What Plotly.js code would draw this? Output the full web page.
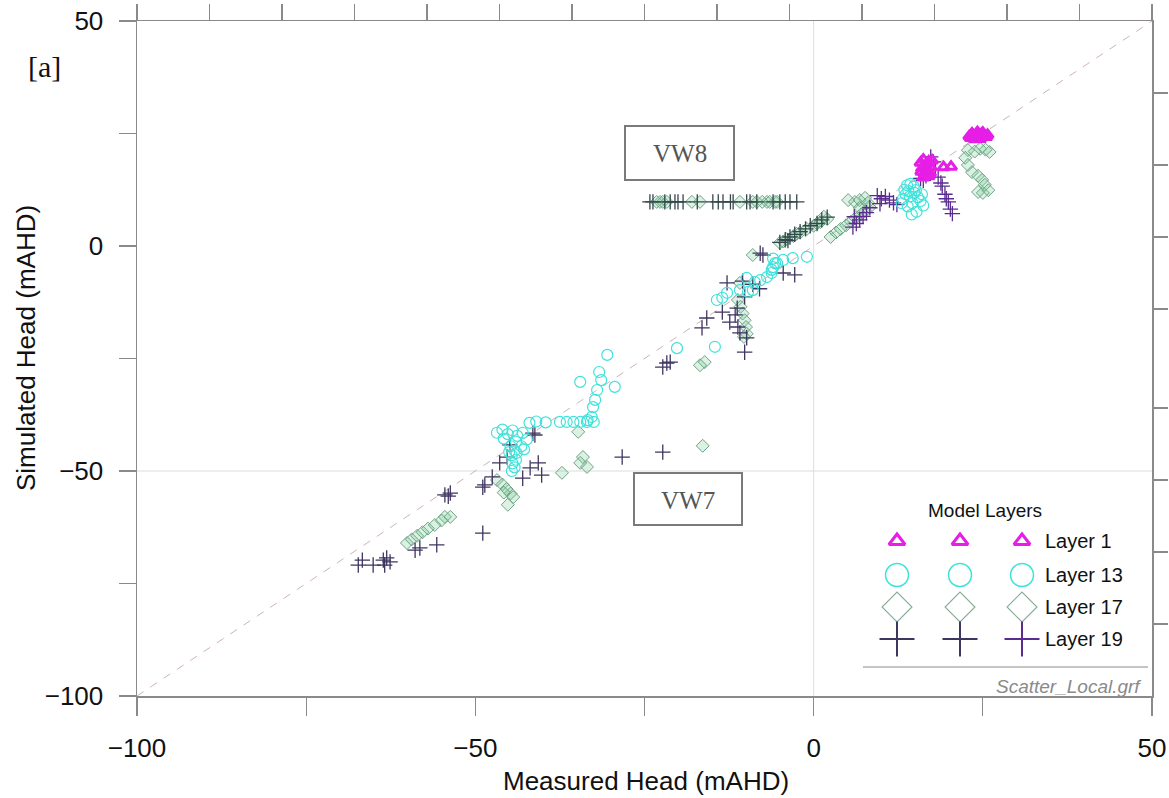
<!DOCTYPE html>
<html>
<head>
<meta charset="utf-8">
<script src="https://cdn.plot.ly/plotly-3.0.1.min.js"></script>
<style>html,body{margin:0;padding:0;background:#fff;}#chart{width:1169px;height:798px;}</style>
</head>
<body>
<div id="chart"></div>
<script>
// ---------- data ----------
var layer1X = [23.2,23.6,24.0,24.4,24.8,25.2,25.5,23.8,24.6,25.0,23.4,24.2,23.0,25.7,24.0,24.9,
               15.8,16.2,16.6,17.0,17.3,16.0,16.8,17.5,16.4,17.0,16.2,15.9,16.5,17.2,
               19.2,20.3];
var layer1Y = [24.0,24.5,24.8,24.3,24.9,24.6,24.2,23.7,23.8,25.2,25.0,25.3,24.4,24.7,24.1,24.4,
               18.5,19.2,18.0,18.8,17.5,17.2,16.8,19.0,16.0,15.5,15.2,16.5,17.8,16.2,
               17.5,17.6];

var layer13X = [13.4,13.8,14.3,14.8,15.1,13.6,14.2,14.9,15.4,14.0,13.2,15.8,16.2,14.6,13.9,15.2,14.5,16.0,13.0,
                -6.0,-4.5,-3.1,-1.0,-5.7,-6.2,
                -9.9,-8.7,-7.9,-6.9,-6.2,-6.0,-5.4,-9.0,-9.7,-10.9,
                -12.8,-14.3,-13.5,-20.2,-14.6,
                -30.5,-31.7,-31.4,-29.4,-34.5,-32.0,-32.3,-32.6,-32.8,-33.4,
                -37.5,-36.5,-35.5,-34.5,-33.5,-32.5,-42.0,-41.0,-39.6,
                -46.8,-46.0,-45.2,-44.5,-43.8,-43.0,-42.4,-45.8,-44.0,
                -44.8,-44.2,-44.6,-44.0,-44.5,-44.2,-44.6,-43.9,-45.0,-43.2,-42.8];
var layer13Y = [12.5,13.5,13.8,13.2,12.4,11.5,11.0,11.8,10.8,12.2,10.5,10.0,9.0,9.5,8.8,7.6,7.0,11.5,9.5,
                -2.8,-3.1,-2.7,-2.4,-3.8,-5.3,
                -7.1,-8.0,-7.6,-6.9,-6.0,-4.7,-3.8,-9.8,-10.2,-9.8,
                -10.4,-12.0,-11.5,-22.7,-22.4,
                -24.2,-28.0,-29.8,-31.3,-30.2,-32.0,-34.2,-35.8,-38.0,-38.7,
                -39.1,-39.1,-39.1,-39.1,-39.1,-39.1,-39.3,-39.0,-39.2,
                -41.5,-40.8,-41.8,-41.0,-42.2,-41.5,-43.0,-42.8,-43.5,
                -44.5,-45.5,-46.5,-47.5,-48.3,-49.2,-50.0,-46.0,-45.8,-44.5,-45.2];

var layer17X = [22.8,24.6,26.0,22.4,22.8,23.4,24.3,24.9,25.3,25.8,25.0,24.3,23.8,25.4,
                2.5,3.3,4.0,4.8,5.5,6.2,7.0,7.6,8.3,5.1,6.1,6.8,7.6,8.0,6.8,
                -5.0,-4.0,-3.0,-2.0,-1.0,0.0,1.0,2.0,-4.5,-2.5,0.5,1.5,
                -23.2,-22.7,-22.3,-21.7,-18.0,-16.8,-10.9,-9.0,-8.4,-7.6,-6.9,-6.5,-5.7,-5.4,
                -9.0,-10.9,-11.2,-10.8,-10.5,-10.2,-10.0,-9.9,-10.3,-16.1,-16.8,
                -34.8,-34.1,-33.5,-34.5,-37.2,-16.4,
                -46.8,-46.0,-45.4,-44.8,-44.4,-45.8,-45.2,-54.5,
                -60.1,-59.4,-58.6,-57.8,-57.0,-56.0,-55.0,-53.7];
var layer17Y = [21.3,21.6,20.9,19.6,18.0,16.4,15.6,14.7,13.6,12.4,11.8,12.0,21.0,21.4,
                2.0,3.0,3.8,4.6,5.4,6.2,7.0,7.8,8.6,10.2,9.8,10.2,10.7,9.6,8.5,
                0.7,1.5,2.2,3.0,3.8,4.5,5.3,6.0,1.0,2.7,5.0,6.5,
                9.8,9.8,9.8,9.8,9.8,9.8,9.8,9.8,9.8,9.8,9.8,9.8,9.8,9.8,
                -2.0,-8.2,-12.0,-13.5,-15.0,-16.5,-18.0,-19.5,-20.2,-25.8,-26.5,
                -41.3,-46.9,-49.1,-48.2,-50.4,-44.4,
                -52.0,-53.0,-54.0,-55.0,-55.8,-54.8,-57.5,-60.2,
                -66.0,-65.2,-64.4,-63.6,-62.8,-62.0,-61.0,-60.2];

var layer19X = [17.3,17.7,18.4,19.0,19.4,19.9,20.2,18.8,19.6,20.5,18.0,15.8,16.6,16.2,
                9.4,10.0,10.6,11.2,11.8,12.3,9.8,
                5.8,6.3,6.8,7.3,7.8,8.3,6.0,
                -5.0,-4.2,-3.5,-2.8,-2.0,-1.2,-0.5,0.5,1.2,2.0,-3.8,
                -24.2,-23.75,-22.0,-21.2,-20.5,-20.05,-19.3,-17.2,-14.9,-14.1,-13.4,-12.3,-11.9,-9.9,-9.4,-8.4,-6.0,-5.0,-4.2,-3.5,-2.5,
                -7.9,-7.5,-4.5,-2.8,-12.8,-10.5,-9.0,-8.0,-10.2,-11.3,-11.6,-12.4,-11.2,-10.9,-9.9,-10.2,-13.5,-15.8,-16.5,-21.7,-21.2,-22.3,
                -41.5,-41.2,-44.9,-45.3,-46.4,-41.9,-40.7,-40.2,-43.0,-47.5,-48.6,-48.9,-53.7,-54.5,-54.0,-28.3,-22.3,
                -48.9,-55.7,-58.9,-58.2,-63.6,-63.1,-62.6,-63.4,-65.1,-66.7,-67.3];
var layer19Y = [19.8,18.7,15.3,13.3,11.5,9.8,8.2,14.0,10.5,7.2,17.0,15.0,15.6,14.6,
                11.2,10.5,11.0,10.2,9.6,9.2,9.4,
                4.2,5.0,5.8,6.6,7.4,8.5,6.5,
                0.8,1.4,2.0,2.6,3.2,3.8,4.5,5.0,5.8,6.4,1.2,
                9.8,9.8,9.8,9.8,9.8,9.8,9.8,9.8,9.8,9.8,9.8,9.8,9.8,9.8,9.8,9.8,9.8,9.8,9.8,9.8,9.8,
                -1.6,-2.0,-6.0,-6.4,-8.2,-7.8,-8.5,-9.5,-11.3,-13.8,-15.3,-16.9,-18.0,-19.3,-20.4,-23.6,-14.7,-16.0,-18.2,-26.0,-25.8,-26.9,
                -41.6,-42.0,-44.2,-46.9,-48.2,-49.3,-48.2,-50.9,-51.6,-51.3,-53.1,-53.6,-54.9,-55.3,-55.6,-46.9,-45.8,
                -63.8,-66.4,-67.6,-67.1,-69.8,-69.3,-70.2,-70.9,-70.9,-69.8,-70.9];

var oneToOne = [-100, 50];
var xTickVals = [-100,-75,-50,-25,0,25,50];
var xTickText = ['\u2212100','','\u221250','','0','','50'];
var yTickVals = [-100,-75,-50,-25,0,25,50];
var yTickText = ['\u2212100','','\u221250','','0','','50'];
var rightTickVals = [34,18,2,-14,-36,-52,-68,-84];
var legendLabels = ['Layer 1','Layer 13','Layer 17','Layer 19'];

// ---------- styles ----------
var C1 = '#e61ee6', C13 = '#3fe2da', C17 = '#6fa386', C19 = '#3e3560', C19b = '#5b2c8f', C19s = '#34474c';
var AX = '#8a8a8a';
var sans = 'Liberation Sans, Arial, sans-serif';
var serif = 'Liberation Serif, DejaVu Serif, serif';

var c19 = layer19X.map(function(x,i){
  var y = layer19Y[i];
  if (x > 5) return C19b;
  if (Math.abs(y - 9.8) < 0.05) return C19s;
  if (x > -6 && x < 3 && y > 0) return C19s;
  return C19;
});

function px2paperX(p){ return (p-137)/1015; }
function px2paperY(p){ return (696-p)/675; }

var traces = [];
traces.push({x: oneToOne, y: oneToOne, mode:'lines', type:'scatter', hoverinfo:'skip',
  line:{color:'#cdb4b4', width:1, dash:'8px,8px'}, showlegend:false});
traces.push({x: layer17X, y: layer17Y, mode:'markers', type:'scatter', showlegend:false,
  marker:{symbol:'diamond', size:10, color:'rgba(110,200,145,0.25)', line:{color:C17, width:1}}});
traces.push({x: layer19X, y: layer19Y, mode:'markers', type:'scatter', showlegend:false,
  marker:{symbol:'cross-thin-open', size:11, color:c19, line:{color:c19, width:1.3}}});
traces.push({x: layer13X, y: layer13Y, mode:'markers', type:'scatter', showlegend:false,
  marker:{symbol:'circle-open', size:11, color:C13, line:{color:C13, width:1.2}}});
traces.push({x: layer1X, y: layer1Y, mode:'markers', type:'scatter', showlegend:false,
  marker:{symbol:'triangle-up-open', size:10, color:C1, line:{color:C1, width:3}}});
traces.push({x: [], y: [], xaxis:'x2', yaxis:'y2', type:'scatter', mode:'markers', showlegend:false});

// ---------- custom legend (pixel-space overlay axes) ----------
var legRows = [541, 575, 607, 639];
var legCols = [897, 960, 1022];
var legSyms = [
  {symbol:'triangle-up-open', size:14, color:C1, lw:3},
  {symbol:'circle-open', size:23, color:C13, lw:1.5},
  {symbol:'diamond-open', size:23, color:'#86ad98', lw:1.1},
  {symbol:'cross-thin-open', size:25, color:C19, lw:2}
];
legSyms.forEach(function(s, r){
  var cols = legCols.map(function(c, k){ return (r===3 && k===2) ? C19b : s.color; });
  traces.push({x: legCols, y: legCols.map(function(){return legRows[r];}), xaxis:'x3', yaxis:'y3',
    type:'scatter', mode:'markers', showlegend:false, hoverinfo:'skip',
    marker:{symbol:s.symbol, size:s.size, color:cols, line:{color:cols, width:s.lw}}});
});

function ann(o){ o.showarrow = false; if(!o.xanchor) o.xanchor='center'; if(!o.yanchor) o.yanchor='middle'; return o; }

var annotations = [
  ann({xref:'x3', yref:'y3', x:985, y:510, text:'Model Layers', font:{family:sans, size:19, color:'#111'}}),
  ann({xref:'paper', yref:'paper', x:px2paperX(44), y:px2paperY(66), text:'[a]', font:{family:serif, size:30, color:'#111'}}),
  ann({xref:'paper', yref:'paper', x:px2paperX(680), y:px2paperY(154), text:'VW8', font:{family:serif, size:25, color:'#555'}}),
  ann({xref:'paper', yref:'paper', x:px2paperX(688), y:px2paperY(500), text:'VW7', font:{family:serif, size:25, color:'#555'}}),
  ann({xref:'x3', yref:'y3', x:1143, y:686, xanchor:'right', text:'<i>Scatter_Local.grf</i>', font:{family:sans, size:19, color:'#8a8a8a'}}),
  ann({xref:'paper', yref:'paper', x:px2paperX(646), y:px2paperY(781), text:'Measured Head (mAHD)', font:{family:sans, size:26, color:'#111'}}),
  ann({xref:'paper', yref:'paper', x:px2paperX(26), y:px2paperY(348), text:'Simulated Head (mAHD)', textangle:-90, font:{family:sans, size:26, color:'#111'}})
];
legendLabels.forEach(function(t, r){
  annotations.push(ann({xref:'x3', yref:'y3', x:1043, y:legRows[r], xanchor:'left', text:t,
    font:{family:sans, size:20, color:'#111'}}));
});

var shapes = [
  {type:'line', xref:'x', yref:'y', x0:0, x1:0, y0:-100, y1:50, line:{color:'#dcdcdc', width:1}, layer:'below'},
  {type:'line', xref:'x', yref:'y', x0:-100, x1:50, y0:-50, y1:-50, line:{color:'#dcdcdc', width:1}, layer:'below'},
  {type:'rect', xref:'paper', yref:'paper', x0:px2paperX(625), x1:px2paperX(734), y0:px2paperY(126), y1:px2paperY(180), line:{color:'#7a7a7a', width:2}},
  {type:'rect', xref:'paper', yref:'paper', x0:px2paperX(634), x1:px2paperX(742), y0:px2paperY(473), y1:px2paperY(525), line:{color:'#7a7a7a', width:2}},
  {type:'line', xref:'paper', yref:'paper', x0:px2paperX(863), x1:px2paperX(1148), y0:px2paperY(667), y1:px2paperY(667), line:{color:'#8a8a8a', width:1}}
];

var layout = {
  width:1169, height:798,
  margin:{l:137, r:17, t:21, b:102},
  paper_bgcolor:'#fff', plot_bgcolor:'#fff',
  showlegend:false,
  font:{family:sans, color:'#111'},
  xaxis:{range:[-100,50], tickvals:xTickVals, ticktext:xTickText, ticks:'outside', ticklen:18, tickwidth:1.2, tickcolor:AX,
    showline:true, linecolor:AX, linewidth:1.5, showgrid:false, zeroline:false, ticklabelstandoff:10,
    tickfont:{family:sans, size:26, color:'#111'}},
  yaxis:{range:[-100,50], tickvals:yTickVals, ticktext:yTickText, ticks:'outside', ticklen:17, tickwidth:1.2, tickcolor:AX,
    showline:true, linecolor:AX, linewidth:1.5, showgrid:false, zeroline:false, ticklabelstandoff:10,
    tickfont:{family:sans, size:26, color:'#111'}},
  xaxis2:{overlaying:'x', side:'top', anchor:'y2', range:[0,14], dtick:1, tick0:0, ticks:'outside', ticklen:16, tickwidth:1.2,
    tickcolor:AX, showline:true, linecolor:AX, linewidth:1.5, showgrid:false, zeroline:false, showticklabels:false},
  yaxis2:{overlaying:'y', side:'right', anchor:'x2', range:[-100,50], tickvals:rightTickVals, ticks:'outside', ticklen:14, tickwidth:1.2,
    tickcolor:AX, showline:true, linecolor:AX, linewidth:1.5, showgrid:false, zeroline:false, showticklabels:false},
  xaxis3:{overlaying:'x', anchor:'y3', range:[137,1152], visible:false, fixedrange:true},
  yaxis3:{overlaying:'y', anchor:'x3', range:[696,21], visible:false, fixedrange:true},
  annotations:annotations,
  shapes:shapes
};

Plotly.newPlot('chart', traces, layout, {displayModeBar:false, staticPlot:true});
</script>
</body>
</html>
